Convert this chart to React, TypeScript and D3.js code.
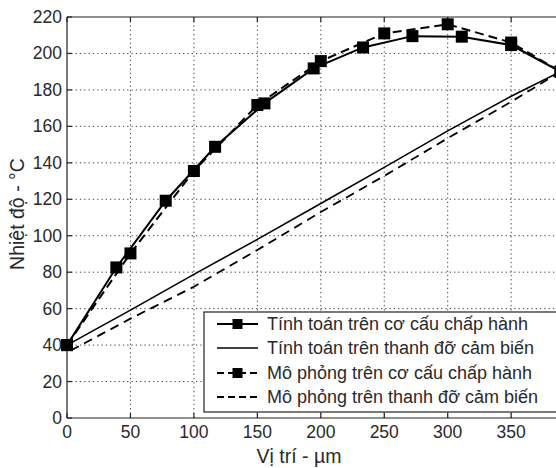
import React from "react";
import * as d3 from "d3";

// Positions along the beam (µm) and temperatures (°C)
const calcActuatorX = [0, 38.9, 77.8, 116.7, 155.6, 194.4, 233.3, 272.2, 311.1, 350, 388.9];
const calcActuatorY = [40, 82.6, 119.2, 148.8, 172.6, 191.8, 203.3, 209.5, 209.2, 204.6, 190];

const calcSensorX = [0, 50, 100, 150, 200, 250, 300, 350, 388.9];
const calcSensorY = [40, 59.2, 78.8, 98, 117.7, 137.5, 157.5, 176.5, 190];

const simActuatorX = [0, 50, 100, 150, 200, 250, 300, 350, 388.9];
const simActuatorY = [40, 90.3, 135.5, 171.7, 195.8, 211, 216, 206, 190];

const simSensorX = [3, 50, 100, 150, 200, 250, 300, 350, 388.9];
const simSensorY = [37, 54.5, 72, 92.2, 113, 132.8, 153.5, 173.5, 190];

const xTicks = [0, 50, 100, 150, 200, 250, 300, 350];
const yTicks = [0, 20, 40, 60, 80, 100, 120, 140, 160, 180, 200, 220];

const legendLabels = [
  "Tính toán trên cơ cấu chấp hành",
  "Tính toán trên thanh đỡ cảm biến",
  "Mô phỏng trên cơ cấu chấp hành",
  "Mô phỏng trên thanh đỡ cảm biến",
];

const W = 556;
const H = 468;
const FONT = "'Liberation Sans', Arial, sans-serif";
const TEXT = "#2a2a2a";

export default function App() {
  const x = d3.scaleLinear().domain([0, 400]).range([67, 574.6]);
  const y = d3.scaleLinear().domain([0, 220]).range([418, 17]);

  const line = d3
    .line<[number, number]>()
    .x((d) => x(d[0]))
    .y((d) => y(d[1]));

  const pts = (xs: number[], ys: number[]) => xs.map((v, i) => [v, ys[i]] as [number, number]);

  const series = [
    { data: pts(calcActuatorX, calcActuatorY), dash: undefined, width: 2, markers: true },
    { data: pts(calcSensorX, calcSensorY), dash: undefined, width: 1.6, markers: false },
    { data: pts(simActuatorX, simActuatorY), dash: "9,5", width: 2, markers: true },
    { data: pts(simSensorX, simSensorY), dash: "9,6", width: 1.8, markers: false },
  ];

  const [x0, x1] = x.range();
  const [yb, yt] = y.range();
  const ms = 12;

  const legendX = 204;
  const legendTop = 312;
  const legendRows = [324, 348, 373, 397];

  return (
    <svg
      width={W}
      height={H}
      style={{ position: "absolute", left: 0, top: 0, background: "#fff" }}
      fontFamily={FONT}
    >
      <rect x={0} y={0} width={W} height={H} fill="#fff" />
      {/* grid */}
      <g stroke="#444" strokeWidth={1} strokeDasharray="1.3,3">
        {xTicks.filter((t) => t > 0).map((t) => (
          <line key={"gx" + t} x1={x(t)} x2={x(t)} y1={yb} y2={yt} />
        ))}
        {yTicks.filter((t) => t > 0 && t < 220).map((t) => (
          <line key={"gy" + t} x1={x0} x2={x1} y1={y(t)} y2={y(t)} />
        ))}
      </g>
      {/* frame and ticks */}
      <g stroke="#222" strokeWidth={1.2} fill="none">
        <line x1={x0} x2={x1} y1={yb} y2={yb} />
        <line x1={x0} x2={x1} y1={yt} y2={yt} />
        <line x1={x0} x2={x0} y1={yb} y2={yt} />
        {xTicks.map((t) => (
          <g key={"tx" + t}>
            <line x1={x(t)} x2={x(t)} y1={yb} y2={yb - 5} />
            <line x1={x(t)} x2={x(t)} y1={yt} y2={yt + 5} />
          </g>
        ))}
        {yTicks.map((t) => (
          <line key={"ty" + t} x1={x0} x2={x0 + 5} y1={y(t)} y2={y(t)} />
        ))}
      </g>
      {/* tick labels */}
      <g fill={TEXT} fontSize={17.5}>
        {xTicks.map((t) => (
          <text key={"lx" + t} x={x(t)} y={438} textAnchor="middle">
            {t}
          </text>
        ))}
        {yTicks.map((t) => (
          <text key={"ly" + t} x={62} y={y(t) + 6} textAnchor="end">
            {t}
          </text>
        ))}
      </g>
      {/* axis titles */}
      <text x={299} y={463} textAnchor="middle" fontSize={19.5} fill={TEXT}>
        Vị trí - µm
      </text>
      <text
        transform={`translate(24,214) rotate(-90)`}
        textAnchor="middle"
        fontSize={19.5}
        fill={TEXT}
      >
        Nhiệt độ - °C
      </text>
      {/* curves */}
      {series.map((s, i) => (
        <g key={"s" + i}>
          <path
            d={line(s.data) ?? ""}
            fill="none"
            stroke="#000"
            strokeWidth={s.width}
            strokeDasharray={s.dash}
          />
          {s.markers &&
            s.data.map((d, j) => (
              <rect
                key={j}
                x={x(d[0]) - ms / 2}
                y={y(d[1]) - ms / 2}
                width={ms}
                height={ms}
                fill="#000"
              />
            ))}
        </g>
      ))}
      {/* legend */}
      <rect
        x={legendX}
        y={legendTop}
        width={W - legendX + 10}
        height={100}
        fill="#fff"
        stroke="#222"
        strokeWidth={1.2}
      />
      {legendRows.map((ry, i) => {
        const s = series[i];
        return (
          <g key={"lg" + i}>
            <line
              x1={217}
              x2={258}
              y1={ry}
              y2={ry}
              stroke="#000"
              strokeWidth={s.width}
              strokeDasharray={s.dash ? "7,4" : undefined}
            />
            {s.markers && <rect x={237.5 - 5} y={ry - 5} width={10} height={10} fill="#000" />}
            <text x={267} y={ry + 6} fontSize={18} fill={TEXT}>
              {legendLabels[i]}
            </text>
          </g>
        );
      })}
    </svg>
  );
}
